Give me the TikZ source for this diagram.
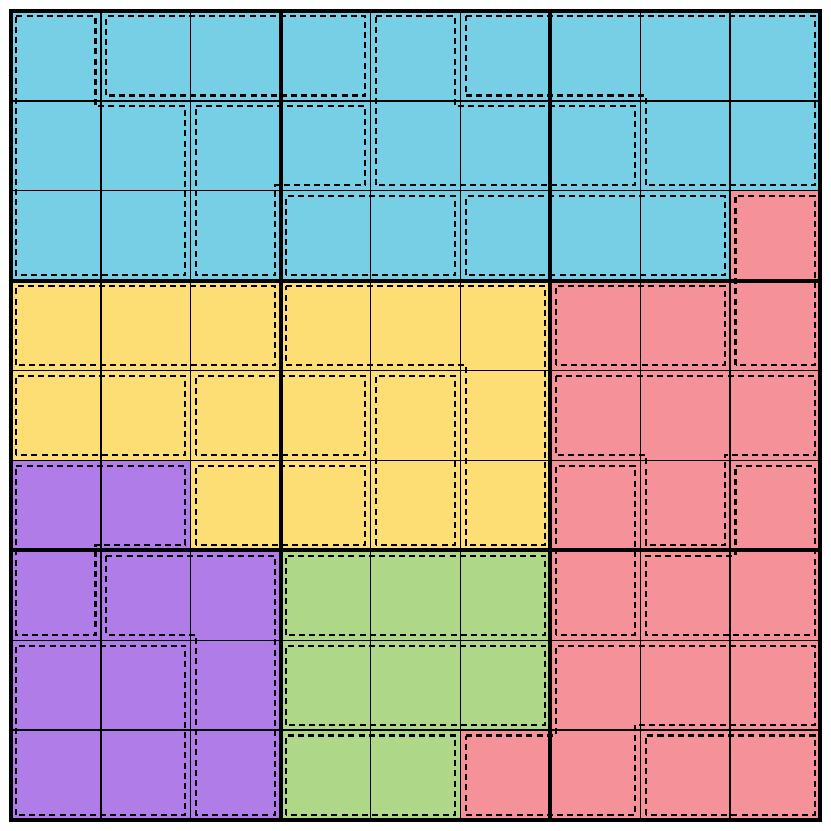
\documentclass[tikz,border=0pt]{standalone}
\begin{document}
\begin{tikzpicture}[x=1cm,y=1cm,
  cage/.style={draw=black,line width=0.65pt,dash pattern=on 1.9pt off 1.3pt},
  gridthin/.style={draw=black,line width=0.4pt},
  gridthick/.style={draw=black,line width=1.3pt}]
\definecolor{cblue}{HTML}{76CFE4}
\definecolor{cyellow}{HTML}{FCDE75}
\definecolor{cred}{HTML}{F59198}
\definecolor{cpurple}{HTML}{B07DE8}
\definecolor{cgreen}{HTML}{AED888}
\useasboundingbox (-0.1224,-0.1224) rectangle (9.1224,9.1224);
\fill[white] (-0.1224,-0.1224) rectangle (9.1224,9.1224);
% regions
\fill[cblue] (0,9) -- (9,9) -- (9,7) -- (8,7) -- (8,6) -- (0,6) -- cycle;
\fill[cred] (8,7) -- (9,7) -- (9,0) -- (5,0) -- (5,1) -- (6,1) -- (6,6) -- (8,6) -- cycle;
\fill[cyellow] (0,6) -- (6,6) -- (6,3) -- (2,3) -- (2,4) -- (0,4) -- cycle;
\fill[cpurple] (0,4) -- (2,4) -- (2,3) -- (3,3) -- (3,0) -- (0,0) -- cycle;
\fill[cgreen] (3,3) -- (6,3) -- (6,1) -- (5,1) -- (5,0) -- (3,0) -- cycle;
% thin grid
\foreach \i in {1,2,4,5,7,8} {
  \draw[gridthin] (\i,0) -- (\i,9);
  \draw[gridthin] (0,\i) -- (9,\i);
}
% cages
\draw[cage] (0.06,8.94) -- (0.94,8.94) -- (0.94,7.94) -- (1.94,7.94) -- (1.94,6.06) -- (0.06,6.06) -- cycle;
\draw[cage] (1.06,8.06) rectangle (3.94,8.94);
\draw[cage] (2.06,7.94) -- (3.94,7.94) -- (3.94,7.06) -- (2.94,7.06) -- (2.94,6.06) -- (2.06,6.06) -- cycle;
\draw[cage] (4.06,8.94) -- (4.94,8.94) -- (4.94,7.94) -- (6.94,7.94) -- (6.94,7.06) -- (4.06,7.06) -- cycle;
\draw[cage] (5.06,8.94) -- (8.94,8.94) -- (8.94,7.06) -- (7.06,7.06) -- (7.06,8.06) -- (5.06,8.06) -- cycle;
\draw[cage] (3.06,6.06) rectangle (4.94,6.94);
\draw[cage] (5.06,6.06) rectangle (7.94,6.94);
\draw[cage] (8.06,5.06) rectangle (8.94,6.94);
\draw[cage] (0.06,5.06) rectangle (2.94,5.94);
\draw[cage] (3.06,5.94) -- (5.94,5.94) -- (5.94,3.06) -- (5.06,3.06) -- (5.06,5.06) -- (3.06,5.06) -- cycle;
\draw[cage] (0.06,4.06) rectangle (1.94,4.94);
\draw[cage] (2.06,4.06) rectangle (3.94,4.94);
\draw[cage] (4.06,3.06) rectangle (4.94,4.94);
\draw[cage] (2.06,3.06) rectangle (3.94,3.94);
\draw[cage] (0.06,3.94) -- (1.94,3.94) -- (1.94,3.06) -- (0.94,3.06) -- (0.94,2.06) -- (0.06,2.06) -- cycle;
\draw[cage] (1.06,2.94) -- (2.94,2.94) -- (2.94,0.06) -- (2.06,0.06) -- (2.06,2.06) -- (1.06,2.06) -- cycle;
\draw[cage] (0.06,0.06) rectangle (1.94,1.94);
\draw[cage] (3.06,2.06) rectangle (5.94,2.94);
\draw[cage] (3.06,1.06) rectangle (5.94,1.94);
\draw[cage] (3.06,0.06) rectangle (4.94,0.94);
\draw[cage] (5.06,0.94) -- (6.06,0.94) -- (6.06,1.94) -- (8.94,1.94) -- (8.94,1.06) -- (6.94,1.06) -- (6.94,0.06) -- (5.06,0.06) -- cycle;
\draw[cage] (7.06,0.06) rectangle (8.94,0.94);
\draw[cage] (6.06,5.06) rectangle (7.94,5.94);
\draw[cage] (6.06,4.94) -- (8.94,4.94) -- (8.94,4.06) -- (7.94,4.06) -- (7.94,3.06) -- (7.06,3.06) -- (7.06,4.06) -- (6.06,4.06) -- cycle;
\draw[cage] (6.06,2.06) rectangle (6.94,3.94);
\draw[cage] (8.06,3.94) -- (8.94,3.94) -- (8.94,2.06) -- (7.06,2.06) -- (7.06,2.94) -- (8.06,2.94) -- cycle;
% thick lines
\foreach \i in {3,6} {
  \draw[gridthick] (\i,0) -- (\i,9);
  \draw[gridthick] (0,\i) -- (9,\i);
}
\draw[gridthick] (0,0) rectangle (9,9);
\end{tikzpicture}
\end{document}
